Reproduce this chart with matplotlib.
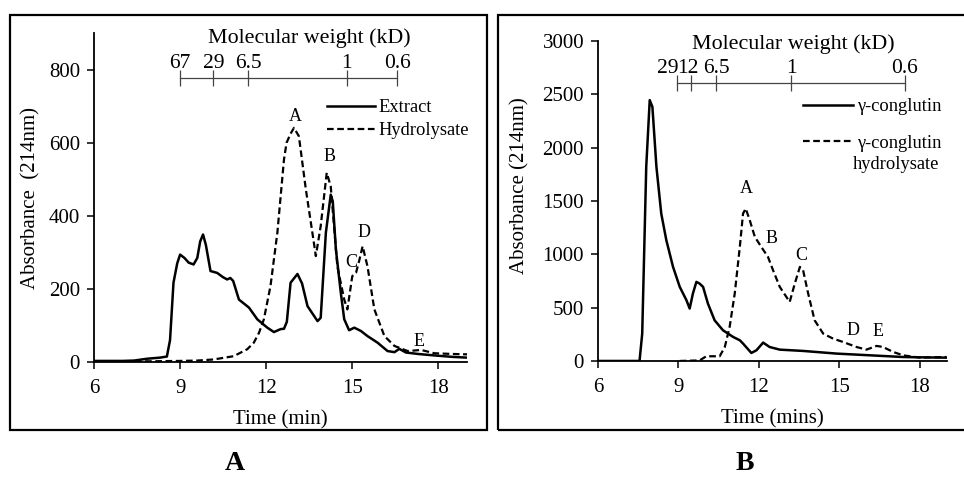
import numpy as np
import matplotlib.pyplot as plt
from matplotlib.patches import Rectangle

plt.rcParams['font.family'] = ['Liberation Serif', 'DejaVu Serif']
plt.rcParams['font.size'] = 15

# ---- panel A : extract vs hydrolysate ----
ext_t = [6.0, 7.0, 7.4, 7.85, 8.3, 8.54, 8.65, 8.77, 8.9, 9.0, 9.15, 9.3, 9.47, 9.6, 9.7, 9.8, 9.9,
         10.06, 10.29, 10.5, 10.64, 10.75, 10.85, 11.05, 11.4, 11.69, 12.04, 12.27, 12.5, 12.62, 12.72,
         12.85, 13.09, 13.25, 13.44, 13.79, 13.9, 14.08, 14.25, 14.32, 14.43, 14.6, 14.72, 14.89, 15.07,
         15.3, 15.53, 15.88, 16.23, 16.47, 16.64, 16.87, 17.3, 17.86, 18.5, 19.0]
ext_y = [3, 3, 4, 9, 12, 15, 60, 217, 270, 294, 285, 272, 267, 285, 330, 349, 320,
         249, 244, 232, 226, 230, 222, 171, 149, 117, 94, 82, 90, 91, 110,
         217, 241, 215, 153, 112, 121, 354, 458, 440, 308, 190, 117, 87, 94,
         85, 71, 53, 30, 27, 36, 26, 22, 18, 14, 12]

hyd_t = [6.0, 7.0, 8.0, 9.0, 9.6, 10.17, 10.87, 11.34, 11.57, 11.75, 11.92, 12.15, 12.39, 12.62, 12.71,
         12.85, 12.97, 13.14, 13.38, 13.61, 13.73, 13.9, 14.11, 14.25, 14.48, 14.72, 14.83, 15.0, 15.13,
         15.25, 15.36, 15.53, 15.77, 16.12, 16.47, 16.93, 17.4, 17.86, 18.5, 19.0]
hyd_y = [2, 2, 2, 3, 4, 7, 16, 35, 53, 80, 117, 208, 354, 554, 600,
         625, 641, 618, 474, 354, 290, 372, 518, 481, 262, 171, 144, 235, 244,
         280, 317, 262, 144, 71, 44, 30, 33, 24, 22, 21]

mw_a_pos = [9.0, 10.16, 11.38, 14.81, 16.56]
mw_a_lab = ['67', '29', '6.5', '1', '0.6']
peaks_a = ['A', 'B', 'C', 'D', 'E']
peaks_a_t = [13.03, 14.19, 14.95, 15.42, 17.34]
peaks_a_y = [671, 563, 272, 354, 57]

# ---- panel B : gamma-conglutin vs hydrolysate ----
gc_t = [6.0, 7.3, 7.55, 7.65, 7.8, 7.93, 8.03, 8.18, 8.36, 8.55, 8.8, 9.05, 9.3, 9.42, 9.54, 9.67,
        9.79, 9.92, 10.1, 10.35, 10.66, 11.04, 11.29, 11.41, 11.72, 11.91, 12.16, 12.4, 12.78, 13.65,
        14.9, 16.14, 17.38, 18.3, 19.0]
gc_y = [0, 0, 0, 256, 1819, 2444, 2381, 1819, 1381, 1131, 881, 694, 569, 491, 631, 741,
        725, 694, 538, 381, 288, 225, 194, 163, 75, 100, 172, 131, 106, 94,
        69, 53, 37, 33, 31]

gch_t = [9.05, 9.79, 10.04, 10.54, 10.73, 10.91, 11.1, 11.29, 11.41, 11.51, 11.66, 11.85, 12.09,
         12.34, 12.53, 12.78, 13.15, 13.34, 13.53, 13.65, 13.84, 14.08, 14.4, 14.77, 15.14, 15.64,
         16.01, 16.39, 16.63, 17.01, 17.38, 18.0, 18.5, 19.0]
gch_y = [0, 5, 44, 44, 131, 319, 631, 1069, 1381, 1428, 1319, 1163, 1069,
         975, 850, 694, 553, 725, 881, 850, 631, 381, 256, 209, 178, 131,
         106, 141, 131, 84, 53, 31, 35, 37]

mw_b_pos = [8.95, 9.47, 10.40, 13.2, 17.45]
mw_b_lab = ['29', '12', '6.5', '1', '0.6']
mw_b_shift = [-7, -2, 0, 0, 0]
peaks_b = ['A', 'B', 'C', 'D', 'E']
peaks_b_t = [11.53, 12.47, 13.59, 15.52, 16.45]
peaks_b_y = [1616, 1147, 991, 288, 272]

fig = plt.figure(figsize=(9.64, 4.8), dpi=100)

# panel frames
fig.patches.append(Rectangle((10 / 964, 50 / 480), 477 / 964, 415 / 480, transform=fig.transFigure,
                             fill=False, lw=1.6, ec='black'))
fig.patches.append(Rectangle((498 / 964, 50 / 480), 470 / 964, 415 / 480, transform=fig.transFigure,
                             fill=False, lw=1.6, ec='black'))

axA = fig.add_axes([0.0975, 0.2458, 0.387, 0.685])
axB = fig.add_axes([0.6203, 0.248, 0.3616, 0.667])


def style_axis(ax):
    for s in ['top', 'right']:
        ax.spines[s].set_visible(False)
    for s in ['left', 'bottom']:
        ax.spines[s].set_linewidth(1.3)
    ax.tick_params(direction='out', length=5, width=1.1)
    ax.tick_params(axis='x', pad=7)
    ax.tick_params(axis='y', pad=5)
    ax.set_xlim(6, 19)
    ax.set_xticks([6, 9, 12, 15, 18])


# panel A
axA.plot(ext_t, ext_y, color='black', lw=1.8, label='Extract')
axA.plot(hyd_t, hyd_y, color='black', lw=1.6, ls=(0, (3, 1.6)), label='Hydrolysate')
style_axis(axA)
axA.set_ylim(0, 900)
axA.set_yticks([0, 200, 400, 600, 800])
axA.set_xlabel('Time (min)', labelpad=9)
axA.set_ylabel('Absorbance  (214nm)', labelpad=6)
axA.plot(mw_a_pos, [778] * len(mw_a_pos), color='#444444', lw=0.9, marker='|', ms=12, mew=0.9)
for p, l in zip(mw_a_pos, mw_a_lab):
    axA.text(p, 816, l, ha='center', va='center', fontsize=15.5)
axA.text(13.52, 886, 'Molecular weight (kD)', ha='center', va='center', fontsize=15.8)
for l, t, y in zip(peaks_a, peaks_a_t, peaks_a_y):
    axA.text(t, y, l, ha='center', va='center', fontsize=13)
axA.legend(loc='upper left', bbox_to_anchor=(0.625, 0.80), frameon=False, borderpad=0,
           borderaxespad=0, handlelength=2.6, handletextpad=0.2, labelspacing=0.35, fontsize=13.3)

# panel B
axB.plot(gc_t, gc_y, color='black', lw=1.8, label='γ-conglutin')
axB.plot(gch_t, gch_y, color='black', lw=1.6, ls=(0, (3, 1.6)), label='γ-conglutin')
style_axis(axB)
axB.set_ylim(0, 3000)
axB.set_yticks([0, 500, 1000, 1500, 2000, 2500, 3000])
axB.set_xlabel('Time (mins)', labelpad=9)
axB.set_ylabel('Absorbance (214nm)', labelpad=6)
axB.yaxis.set_label_coords(-0.196, 0.547)
axB.plot(mw_b_pos, [2606] * len(mw_b_pos), color='#444444', lw=0.9, marker='|', ms=12, mew=0.9)
for p, l, dx in zip(mw_b_pos, mw_b_lab, mw_b_shift):
    axB.annotate(l, (p, 2745), xytext=(dx, 0), textcoords='offset points', ha='center', va='center',
                 fontsize=15.5)
axB.text(13.28, 2970, 'Molecular weight (kD)', ha='center', va='center', fontsize=15.8)
for l, t, y in zip(peaks_b, peaks_b_t, peaks_b_y):
    axB.text(t, y, l, ha='center', va='center', fontsize=13)
leg = axB.legend(loc='upper left', bbox_to_anchor=(0.588, 0.82), frameon=False, borderpad=0,
                 borderaxespad=0, handlelength=2.7, handletextpad=0.25, labelspacing=1.05, fontsize=13.3)
# second line of the hydrolysate legend label (drawn after the legend so its position is known)
axB.annotate('hydrolysate', xy=(0.46, 0), xycoords=leg.get_texts()[1], xytext=(0, -3),
             textcoords='offset points', ha='center', va='top', fontsize=13.3, zorder=10)

# panel letters
fig.text(235 / 964, 1 - 463 / 480, 'A', ha='center', va='center', fontsize=20, fontweight='bold')
fig.text(745 / 964, 1 - 463 / 480, 'B', ha='center', va='center', fontsize=20, fontweight='bold')

fig.savefig('out.png', dpi=100)
